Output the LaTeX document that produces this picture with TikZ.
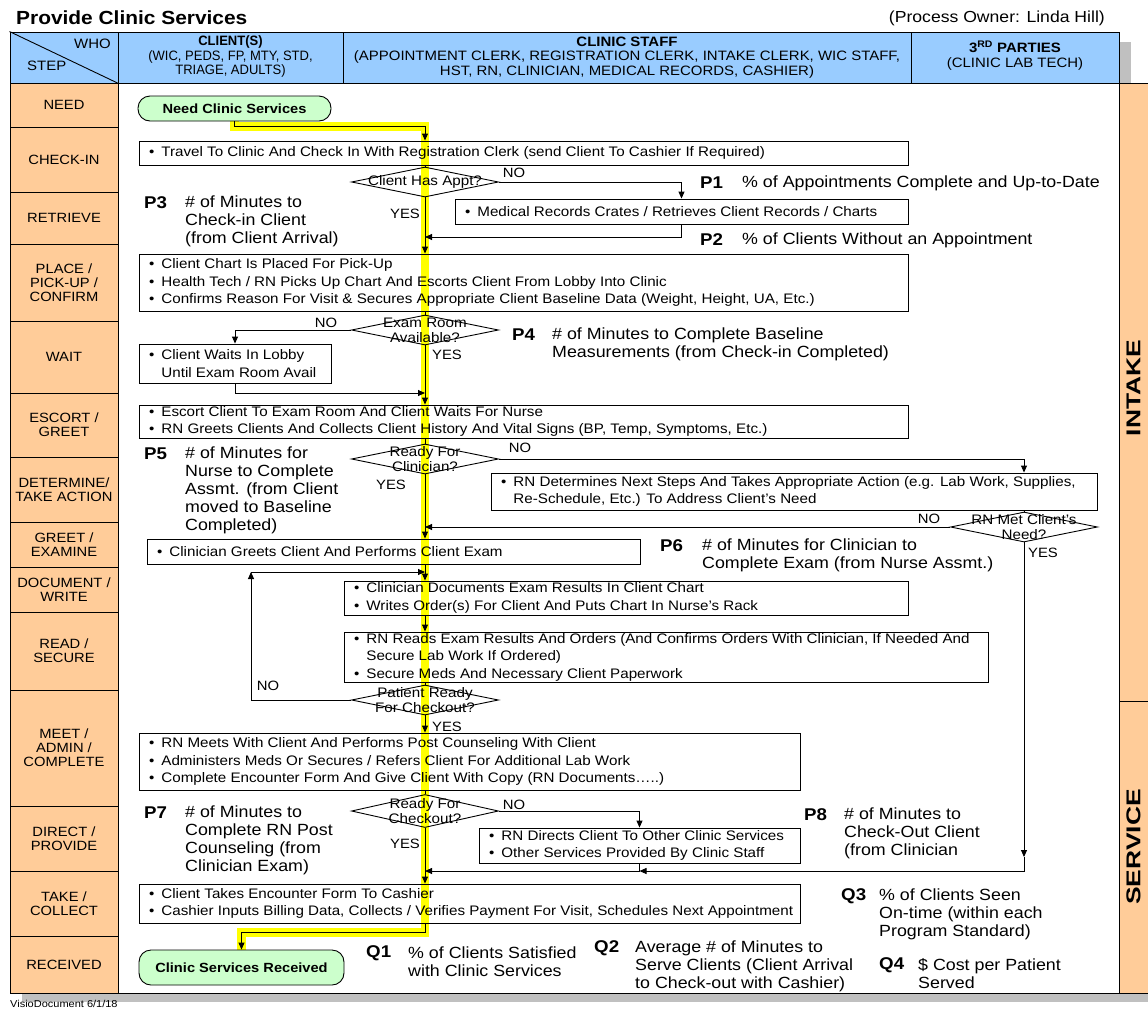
\documentclass[tikz,border=0pt]{standalone}
\usepackage{fontspec}
\setmainfont{Liberation Sans}[FakeStretch=1.1]
\usetikzlibrary{arrows.meta,shapes.geometric,calc}
\definecolor{hdrblue}{RGB}{153,204,255}
\definecolor{steporange}{RGB}{255,204,153}
\definecolor{termgreen}{RGB}{204,255,204}
\definecolor{shadowgray}{RGB}{192,192,192}
\definecolor{hlyellow}{RGB}{255,255,0}
\pgfdeclarelayer{bg}
\pgfdeclarelayer{hl}
\pgfsetlayers{bg,hl,main}
\newcommand\bul{\textbullet\hspace{0.5em}}
\newcommand\ind{\phantom{\textbullet}\hspace{0.5em}}
\tikzset{
 conn/.style={line width=0.9pt,-{Triangle[length=7pt,width=6pt]}},
 cline/.style={line width=0.9pt},
 pbox/.style={draw,line width=0.9pt,rectangle,inner sep=0pt},
 ptext/.style={inner sep=0pt,align=left,font=\fontsize{13.8}{17.5}\selectfont},
 dia/.style={draw,diamond,line width=0.9pt,inner sep=0pt,minimum width=147pt,minimum height=30pt},
 dtext/.style={inner sep=0pt,align=center,font=\fontsize{13.8}{15}\selectfont},
 yn/.style={inner sep=0pt,font=\fontsize{13.5}{15}\selectfont},
 pid/.style={inner sep=0pt,anchor=west,font=\bfseries\fontsize{17}{18}\selectfont},
 pdesc/.style={inner sep=0pt,anchor=west,align=left,font=\fontsize{16.2}{18}\selectfont},
 stepcell/.style={draw,line width=0.9pt,fill=steporange,minimum width=108pt,inner sep=0pt,align=center,font=\fontsize{13.4}{14}\selectfont},
 term/.style={draw,line width=0.9pt,fill=termgreen,rounded corners=12pt,inner sep=0pt,font=\bfseries\fontsize{13.3}{15}\selectfont},
 hdr/.style={draw,line width=0.9pt,fill=hdrblue,inner sep=0pt},
 htext/.style={inner sep=0pt,align=center,font=\fontsize{13.6}{14.5}\selectfont},
 side/.style={draw,line width=0.9pt,fill=steporange,inner sep=0pt,minimum width=31pt},
 sidetext/.style={inner sep=0pt,rotate=90,font=\bfseries\fontsize{20}{22}\selectfont},
 hlpath/.style={line width=8.5pt,hlyellow,line join=miter},
}
\newcommand\procbox[6]{%
  \node[pbox,minimum width={#4-#2},minimum height={#5-#3}] (#1) at ({(#2+#4)/2},{(#3+#5)/2}) {};
  \node[ptext,anchor=west] (#1-t) at ({#2+10},{(#3+#5)/2}) {#6};
}
\begin{document}
\begin{tikzpicture}[x=1pt,y=-1pt]
\useasboundingbox (0,0) rectangle (1148,1010);
\clip (0,0) rectangle (1148,1010);

% ---------- background frame ----------
\begin{pgfonlayer}{bg}
\fill[shadowgray] (22,42) rectangle (1131,1002);
\fill[shadowgray] (1131,95) rectangle (1160,1002);
\draw[line width=0.9pt,fill=white] (118,83) rectangle (1119,993);
\end{pgfonlayer}

% ---------- title ----------
\node[anchor=west,inner sep=0pt,font=\bfseries\fontsize{19}{20}\selectfont] (title) at (16,18) {Provide Clinic Services};
\node[anchor=east,inner sep=0pt,font=\fontsize{16}{18}\selectfont] (owner) at (1105,18) {(Process Owner: Linda Hill)};

% ---------- header ----------
\node[hdr,minimum width=108pt,minimum height=51pt] (hwho) at (64,57.5) {};
\draw[line width=0.9pt] (hwho.north west) -- (hwho.south east);
\node[htext,anchor=east] (who) at (111,44) {WHO};
\node[htext,anchor=west] (step) at (27,66) {STEP};
\node[hdr,minimum width=225pt,minimum height=51pt] (hclient) at (230.5,57.5) {};
\node[htext] (hclient-t) at (230.5,57.5) {\scalebox{0.87}[1]{\begin{tabular}{@{}c@{}}\textbf{CLIENT(S)}\\(WIC, PEDS, FP, MTY, STD,\\TRIAGE, ADULTS)\end{tabular}}};
\node[hdr,minimum width=568pt,minimum height=51pt] (hstaff) at (627,57.5) {};
\node[htext] (hstaff-t) at (627,57.5) {\textbf{CLINIC STAFF}\\(APPOINTMENT CLERK, REGISTRATION CLERK, INTAKE CLERK, WIC STAFF,\\HST, RN, CLINICIAN, MEDICAL RECORDS, CASHIER)};
\node[hdr,minimum width=208pt,minimum height=51pt] (hthird) at (1015,57.5) {};
\node[htext] (hthird-t) at (1015,55.5) {\textbf{3\textsuperscript{RD} PARTIES}\\(CLINIC LAB TECH)};

% ---------- step column ----------
\foreach \n/\a/\b/\lbl in {1/83/127/{NEED},2/127/192/{CHECK-IN},3/192/244/{RETRIEVE},4/244/321/{PLACE /\\PICK-UP /\\CONFIRM},5/321/393/{WAIT},6/393/457/{ESCORT /\\GREET},7/457/522/{DETERMINE/\\TAKE ACTION},8/522/567/{GREET /\\EXAMINE},9/567/612/{DOCUMENT /\\WRITE},10/612/690/{READ /\\SECURE},11/690/806/{MEET /\\ADMIN /\\COMPLETE},12/806/871/{DIRECT /\\PROVIDE},13/871/936/{TAKE /\\COLLECT},14/936/993/{RECEIVED}}{
  \node[stepcell,minimum height={\b-\a}] (s\n) at (64,{(\a+\b)/2}) {\lbl};
}

% ---------- side column ----------
\node[side,minimum height=618pt] (intake) at (1134.5,392) {};
\node[sidetext] (intake-t) at (1133.5,388) {\scalebox{1.2}[1]{INTAKE}};
\node[side,minimum height=292pt] (service) at (1134.5,847) {};
\node[sidetext] (service-t) at (1133.5,847) {\scalebox{1.2}[1]{SERVICE}};

% ---------- terminals ----------
\node[term,minimum width=193pt,minimum height=25pt] (need) at (234.5,108.5) {Need Clinic Services};
\node[term,minimum width=205pt,minimum height=35pt] (recv) at (241.5,967.5) {Clinic Services Received};

% ---------- process boxes ----------
\procbox{travel}{139}{141}{908}{165}{\bul Travel To Clinic And Check In With Registration Clerk (send Client To Cashier If Required)}
\procbox{medrec}{455}{199}{908}{224}{\bul Medical Records Crates / Retrieves Client Records / Charts}
\procbox{place}{139}{254}{908}{311}{\bul Client Chart Is Placed For Pick-Up\\\bul Health Tech / RN Picks Up Chart And Escorts Client From Lobby Into Clinic\\\bul Confirms Reason For Visit \& Secures Appropriate Client Baseline Data (Weight, Height, UA, Etc.)}
\procbox{wait}{139}{344}{331}{383}{\bul Client Waits In Lobby\\\ind Until Exam Room Avail}
\procbox{escort}{139}{405}{908}{438}{\bul Escort Client To Exam Room And Client Waits For Nurse\\\bul RN Greets Clients And Collects Client History And Vital Signs (BP, Temp, Symptoms, Etc.)}
\procbox{determine}{491}{473}{1097}{510}{\bul RN Determines Next Steps And Takes Appropriate Action (e.g. Lab Work, Supplies,\\\ind Re-Schedule, Etc.) To Address Client’s Need}
\procbox{greet}{147}{539}{640}{564}{\bul Clinician Greets Client And Performs Client Exam}
\procbox{document}{344}{581}{908}{615}{\bul Clinician Documents Exam Results In Client Chart\\\bul Writes Order(s) For Client And Puts Chart In Nurse’s Rack}
\procbox{read}{344}{632}{988}{682}{\bul RN Reads Exam Results And Orders (And Confirms Orders With Clinician, If Needed And\\\ind Secure Lab Work If Ordered)\\\bul Secure Meds And Necessary Client Paperwork}
\procbox{meet}{139}{733}{800}{790}{\bul RN Meets With Client And Performs Post Counseling With Client\\\bul Administers Meds Or Secures / Refers Client For Additional Lab Work\\\bul Complete Encounter Form And Give Client With Copy (RN Documents…..)}
\procbox{direct}{479}{828}{800}{863}{\bul RN Directs Client To Other Clinic Services\\\bul Other Services Provided By Clinic Staff}
\procbox{take}{139}{884}{800}{923}{\bul Client Takes Encounter Form To Cashier\\\bul Cashier Inputs Billing Data, Collects / Verifies Payment For Visit, Schedules Next Appointment}

% ---------- decisions ----------
\node[dia] (d1) at (425,182) {};
\node[dtext] (d1-t) at (425,182) {Client Has Appt?};
\node[dia] (d2) at (425,330) {};
\node[dtext] (d2-t) at (425,330) {Exam Room\\Available?};
\node[dia] (d3) at (425,459) {};
\node[dtext] (d3-t) at (425,459) {Ready For\\Clinician?};
\node[dia] (d4) at (1024,527) {};
\node[dtext] (d4-t) at (1024,527) {RN Met Client’s\\Need?};
\node[dia] (d5) at (425,700) {};
\node[dtext] (d5-t) at (425,700) {Patient Ready\\For Checkout?};
\node[dia,minimum height=33pt] (d6) at (425,811) {};
\node[dtext] (d6-t) at (425,811) {Ready For\\Checkout?};

% ---------- yes / no ----------
\node[yn] (no1) at (514,173) {NO};
\node[yn] (yes1) at (405,214) {YES};
\node[yn] (no2) at (326,323) {NO};
\node[yn] (yes2) at (447,355) {YES};
\node[yn] (no3) at (520,448) {NO};
\node[yn] (yes3) at (391,485) {YES};
\node[yn] (no4) at (929,519) {NO};
\node[yn] (yes4) at (1043,553) {YES};
\node[yn] (no5) at (268,686) {NO};
\node[yn] (yes5) at (447,727) {YES};
\node[yn] (no6) at (514,805) {NO};
\node[yn] (yes6) at (405,844) {YES};

% ---------- measures ----------
\node[pid] (p1) at (700,183) {P1};
\node[pdesc] (p1-t) at (742,183) {\% of Appointments Complete and Up-to-Date};
\node[pid] (p2) at (700,240) {P2};
\node[pdesc] (p2-t) at (742,240) {\% of Clients Without an Appointment};
\node[pid] (p3) at (144,203) {P3};
\node[pdesc] (p3-t) at (185,221) {\# of Minutes to\\Check-in Client\\(from Client Arrival)};
\node[pid] (p4) at (512,335) {P4};
\node[pdesc] (p4-t) at (552,344) {\# of Minutes to Complete Baseline\\Measurements (from Check-in Completed)};
\node[pid] (p5) at (144,454) {P5};
\node[pdesc] (p5-t) at (185,490) {\# of Minutes for\\Nurse to Complete\\Assmt. (from Client\\moved to Baseline\\Completed)};
\node[pid] (p6) at (660,546) {P6};
\node[pdesc] (p6-t) at (702,555) {\# of Minutes for Clinician to\\Complete Exam (from Nurse Assmt.)};
\node[pid] (p7) at (144,813) {P7};
\node[pdesc] (p7-t) at (185,840) {\# of Minutes to\\Complete RN Post\\Counseling (from\\Clinician Exam)};
\node[pid] (p8) at (804,815) {P8};
\node[pdesc] (p8-t) at (844,833) {\# of Minutes to\\Check-Out Client\\(from Clinician};
\node[pid] (q1) at (366,953) {Q1};
\node[pdesc] (q1-t) at (408,962) {\% of Clients Satisfied\\with Clinic Services};
\node[pid] (q2) at (594,948) {Q2};
\node[pdesc] (q2-t) at (635,966) {Average \# of Minutes to\\Serve Clients (Client Arrival\\to Check-out with Cashier)};
\node[pid] (q3) at (841,896) {Q3};
\node[pdesc] (q3-t) at (879,914) {\% of Clients Seen\\On-time (within each\\Program Standard)};
\node[pid] (q4) at (879,965) {Q4};
\node[pdesc] (q4-t) at (918,974) {\$ Cost per Patient\\Served};

\node[anchor=west,inner sep=0pt,font=\fontsize{10}{11}\selectfont] (footer) at (10,1004) {VisioDocument 6/1/18};

% ---------- highlight ----------
\begin{pgfonlayer}{hl}
\draw[hlpath] (need.south) -- ++(0,5) -| (d1.north |- take.south) -- ++(0,9) -| (recv.north);
\end{pgfonlayer}

% ---------- connectors ----------
\coordinate (j1) at (425,237);
\coordinate (j2) at (425,393);
\coordinate (j4) at (1024,857);
\coordinate (k1) at (1024,871);
\coordinate (k2) at (639.5,871);
\coordinate (k3) at (425,871);
\coordinate (l1) at (251,572);

\draw[conn] (need.south) -- ++(0,5) -| (d1.north |- travel.north);
\draw[cline] (d1.north |- travel.south) -- (d1.north);
\draw[conn] (d1.south) -- (d1.south |- place.north);
\draw[conn] (d1.east) -| (medrec.north);
\draw[conn] (medrec.south) |- (j1);
\draw[cline] (d2.north |- place.south) -- (d2.north);
\draw[conn] (d2.west) -| (wait.north);
\draw[conn] (d2.south) -- (d2.south |- escort.north);
\draw[conn] (wait.south) |- (j2);
\draw[cline] (d3.north |- escort.south) -- (d3.north);
\draw[conn] (d3.east) -| (d4.north |- determine.north);
\draw[conn] (d3.south) -- (d3.south |- greet.north);
\draw[cline] (d4.north |- determine.south) -- (d4.north);
\draw[conn] (d4.west) -- (d4.west -| d3.south);
\draw[conn] (d4.south) -- (j4);
\draw[conn] (j4) -- (k1) -- (k2);
\draw[conn] (d3.south |- greet.south) -- (d3.south |- document.north);
\draw[conn] (d3.south |- document.south) -- (d3.south |- read.north);
\draw[cline] (d5.north |- read.south) -- (d5.north);
\draw[conn] (d5.west) -| (l1);
\draw[conn] (l1) -- (d5.north |- l1);
\draw[conn] (d5.south) -- (d5.south |- meet.north);
\draw[cline] (d6.north |- meet.south) -- (d6.north);
\draw[conn] (d6.east) -| (direct.north);
\draw[conn] (d6.south) -- (d6.south |- take.north);
\draw[conn] (direct.south) |- (k3);
\draw[conn] (d6.south |- take.south) -- ++(0,9) -| (recv.north);
\end{tikzpicture}
\end{document}
